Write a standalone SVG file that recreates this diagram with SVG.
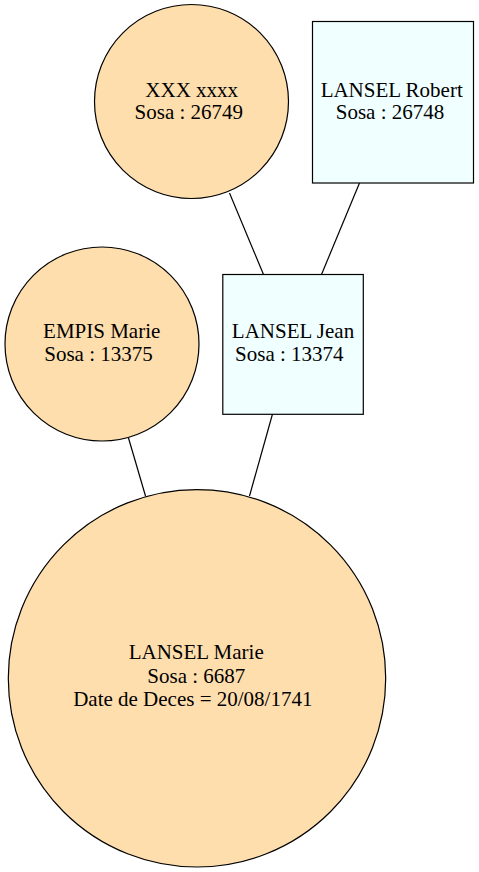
<svg xmlns="http://www.w3.org/2000/svg" width="479" height="872" viewBox="0 0 479 872">
<style>
.c{fill:#ffdead;stroke:#000;stroke-width:1.2}
.s{fill:#f0ffff;stroke:#000;stroke-width:1.2}
.e{stroke:#000;stroke-width:1.2;fill:none}
text{font-size:21px;fill:#000;text-anchor:middle}
</style>
<rect width="479" height="872" fill="#fff"/>
<g id="edges">
<line class="e" x1="229.5" y1="193" x2="263.5" y2="274.5"/>
<line class="e" x1="359.5" y1="183" x2="321.5" y2="274.5"/>
<line class="e" x1="128.5" y1="438" x2="145.5" y2="496"/>
<line class="e" x1="272.5" y1="414" x2="249.5" y2="496"/>
</g>
<g font-family="Liberation Serif, Times New Roman, serif">
<g id="n_xxx">
<circle class="c" cx="191.5" cy="101.5" r="97"/>
<text x="191.7" y="96.7">XXX xxxx</text>
<text x="188.8" y="119.3">Sosa : 26749</text>
</g>
<g id="n_robert">
<rect class="s" x="312.5" y="21.5" width="161" height="161.5"/>
<text x="391.7" y="96.7">LANSEL Robert</text>
<text x="390" y="119.3">Sosa : 26748</text>
</g>
<g id="n_empis">
<circle class="c" cx="102" cy="344" r="97"/>
<text x="101.7" y="337.7">EMPIS Marie</text>
<text x="98.5" y="361.2">Sosa : 13375</text>
</g>
<g id="n_jean">
<rect class="s" x="222.8" y="274.5" width="140.5" height="139.8"/>
<text x="293" y="337.7">LANSEL Jean</text>
<text x="289.3" y="361.2">Sosa : 13374</text>
</g>
<g id="n_marie">
<circle class="c" cx="197" cy="678.3" r="188.7"/>
<text x="196.2" y="659">LANSEL Marie</text>
<text x="196.3" y="682.6">Sosa : 6687</text>
<text x="192.8" y="706.4">Date de Deces = 20/08/1741</text>
</g>
</g>
</svg>
